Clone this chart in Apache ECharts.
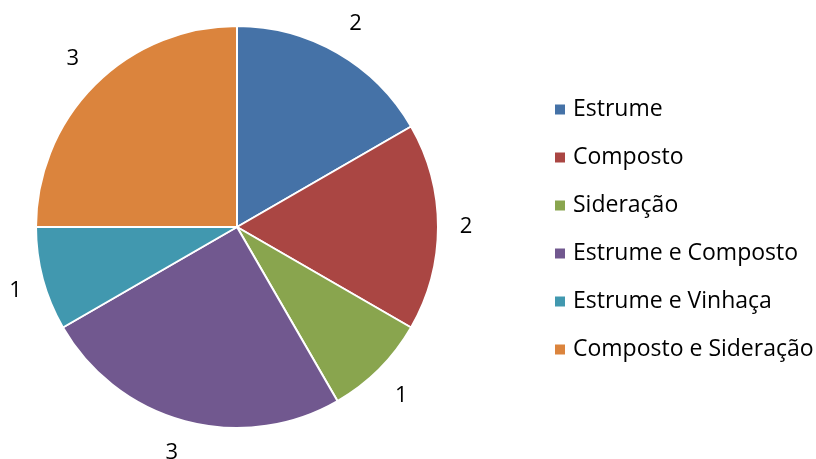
<!DOCTYPE html>
<html>
<head>
<meta charset="utf-8">
<script src="https://cdn.jsdelivr.net/npm/echarts@6/dist/echarts.min.js"></script>
<style>
  html, body { margin: 0; padding: 0; background: #fff; }
  #chart { width: 816px; height: 459px; }
</style>
</head>
<body>
<div id="chart"></div>
<script>
var categories = ['Estrume', 'Composto', 'Sideração', 'Estrume e Composto', 'Estrume e Vinhaça', 'Composto e Sideração'];
var values = [2, 2, 1, 3, 1, 3];
var colors = ['#4572A7', '#AA4643', '#89A54E', '#71588F', '#4198AF', '#DB843D'];

var cx = 237, cy = 227, R = 201;

var pieData = [];
var total = 0;
for (var i = 0; i < categories.length; i++) {
  pieData.push({ name: categories[i], value: values[i] });
  total += values[i];
}

// label placement like office charts: text box just outside the slice middle
function clamp(v, s) { return Math.max(-1, Math.min(1, v / s)); }
function placeLabel(params) {
  var idx = params.dataIndex;
  var before = 0;
  for (var k = 0; k < idx; k++) before += values[k];
  var ang = (before + values[idx] / 2) / total * Math.PI * 2;
  var ux = Math.sin(ang), uy = -Math.cos(ang);
  var d = R + 20;
  return {
    x: cx + d * ux + 8 * clamp(ux, 0.25),
    y: cy + d * uy + 12 * clamp(uy, 0.5),
    align: 'center',
    verticalAlign: 'middle'
  };
}

var myChart = echarts.init(document.getElementById('chart'));
var option = {
  color: colors,
  textStyle: { fontFamily: 'Open Sans' },
  legend: {
    orient: 'vertical',
    left: 553,
    top: 98,
    padding: 0,
    itemWidth: 12,
    itemHeight: 12,
    itemGap: 25,
    icon: 'rect',
    textStyle: { fontSize: 23, color: '#000', lineHeight: 22, padding: [0, 0, 0, 2] },
    data: categories
  },
  series: [{
    type: 'pie',
    center: [cx, cy],
    radius: R,
    startAngle: 90,
    clockwise: true,
    animation: false,
    avoidLabelOverlap: false,
    itemStyle: { borderColor: '#fff', borderWidth: 2 },
    label: {
      show: true,
      position: 'outside',
      formatter: '{c}',
      fontSize: 22,
      color: '#000'
    },
    labelLine: { show: false },
    labelLayout: placeLabel,
    emphasis: { disabled: true },
    data: pieData
  }]
};
myChart.setOption(option);
</script>
</body>
</html>
